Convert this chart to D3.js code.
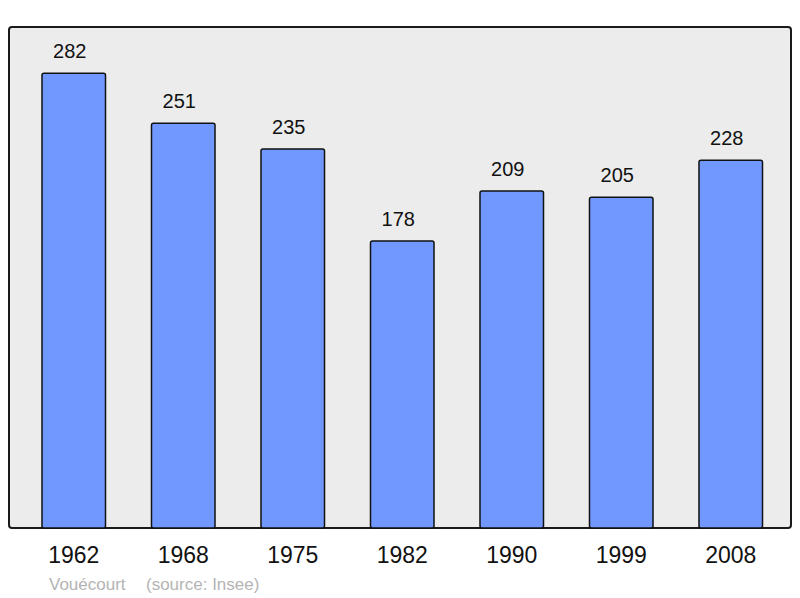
<!DOCTYPE html>
<html>
<head>
<meta charset="utf-8">
<script src="https://cdn.jsdelivr.net/npm/d3@7"></script>
<style>
  body { margin: 0; background: #fff; }
  svg { display: block; font-family: "Liberation Sans", Arial, sans-serif; }
</style>
</head>
<body>
<div id="chart"></div>
<script>
// population by census year
const years = ['1962', '1968', '1975', '1982', '1990', '1999', '2008'];
const population = [282, 251, 235, 178, 209, 205, 228];
const commune = 'Vouécourt';
const source = '(source: Insee)';

const width = 800, height = 598;
const frame = {left: 9, top: 27, right: 791, bottom: 528};

const svg = d3.select('#chart').append('svg')
    .attr('width', width)
    .attr('height', height);

// background panel
svg.append('rect')
    .attr('x', frame.left)
    .attr('y', frame.top)
    .attr('width', frame.right - frame.left)
    .attr('height', frame.bottom - frame.top)
    .attr('rx', 3)
    .attr('fill', '#ececec')
    .attr('stroke', '#1a1a1a')
    .attr('stroke-width', 2);

const x = d3.scaleBand()
    .domain(years)
    .range([19, 785.5])
    .paddingInner(0.42)
    .paddingOuter(0.21);

const y = d3.scaleLinear()
    .domain([0, 310])
    .range([frame.bottom, frame.bottom - 500]);

const data = years.map((yr, i) => ({year: yr, value: population[i]}));

svg.selectAll('rect.bar')
    .data(data)
    .enter().append('rect')
    .attr('class', 'bar')
    .attr('x', d => x(d.year))
    .attr('y', d => y(d.value))
    .attr('width', x.bandwidth())
    .attr('height', d => frame.bottom - y(d.value))
    .attr('rx', 2)
    .attr('fill', '#7098ff')
    .attr('stroke', '#111')
    .attr('stroke-width', 1.5);

// value labels (sit a little left of bar centre)
svg.selectAll('text.val')
    .data(data)
    .enter().append('text')
    .attr('class', 'val')
    .attr('x', d => x(d.year) + x.bandwidth() / 2 - 4)
    .attr('y', d => y(d.value) - 15)
    .attr('text-anchor', 'middle')
    .attr('font-size', 20)
    .attr('fill', '#111')
    .text(d => d.value);

// year axis labels
svg.append('g')
    .attr('transform', 'translate(0,' + frame.bottom + ')')
    .call(d3.axisBottom(x).tickSize(0).tickPadding(19))
    .call(g => g.select('.domain').remove())
    .call(g => g.selectAll('text')
        .attr('font-size', 23)
        .attr('font-family', '"Liberation Sans", Arial, sans-serif')
        .attr('fill', '#111'));

// footer
svg.append('text')
    .attr('x', 49)
    .attr('y', 590)
    .attr('font-size', 17)
    .attr('fill', '#b4b4b4')
    .text(commune);

svg.append('text')
    .attr('x', 146)
    .attr('y', 590)
    .attr('font-size', 17)
    .attr('fill', '#b4b4b4')
    .text(source);
</script>
</body>
</html>
